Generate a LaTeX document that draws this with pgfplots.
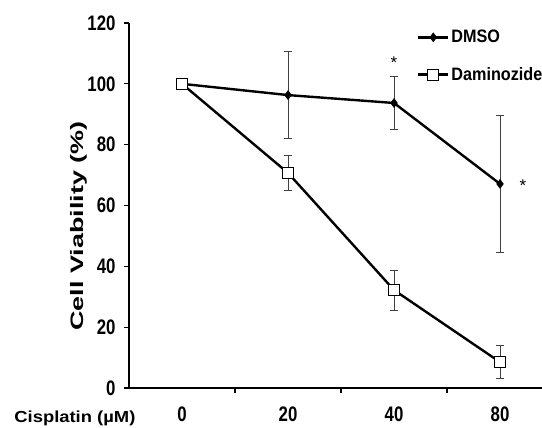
\documentclass[border=0pt]{standalone}
\usepackage{fontspec}
\setmainfont{Liberation Sans}
\newfontfamily\tickfont{Liberation Sans}[FakeStretch=0.8]
\newfontfamily\ylabfont{Liberation Sans}[FakeStretch=1.5]
\newfontfamily\xlabfont{Liberation Sans}[FakeStretch=1.15]
\newfontfamily\legfont{Liberation Sans}[FakeStretch=0.9]
\usepackage{pgfplots}
\pgfplotsset{compat=1.18}
\pgfplotstableread{
x y e
0.5 100 0
1.5 96.3 14.4
2.5 93.7 8.7
3.5 67.1 22.6
}\dmso
\pgfplotstableread{
x y e
0.5 100 0
1.5 70.7 5.7
2.5 32.2 6.6
3.5 8.5 5.5
}\dam
\begin{document}
\begin{tikzpicture}
\path[use as bounding box] (-129pt,-40pt) rectangle (413pt,388pt);
\begin{axis}[
  scale only axis, width=413pt, height=365pt,
  xmin=0, xmax=3.896, ymin=0, ymax=120,
  axis x line=bottom, axis y line=left,
  axis line style={line width=1.6pt, -},
  clip=false,
  ytick={0,20,...,120},
  xtick={1,2,3}, xticklabels={},
  extra x ticks={0.5,1.5,2.5,3.5},
  extra x tick labels={0,20,40,80},
  extra x tick style={major tick length=0pt},
  tick align=outside,
  major tick length=5pt,
  tick style={line width=1.2pt, black},
  /pgf/number format/assume math mode=true,
  ticklabel style={font=\tickfont\bfseries\fontsize{21}{21}\selectfont},
  yticklabel style={xshift=-5pt},
  xticklabel style={yshift=-15pt},
  xlabel={Cisplatin (µM)},
  xlabel style={at={(axis description cs:-0.131,-0.084)}, anchor=center, inner sep=0pt, font=\xlabfont\bfseries\fontsize{16}{16}\selectfont},
  ylabel={Cell Viability (\%)},
  ylabel style={at={(axis description cs:-0.121,0.444)}, anchor=center, font=\ylabfont\bfseries\fontsize{18}{18}\selectfont},
  legend style={at={(axis description cs:0.697,0.986)}, anchor=north west, draw=none, fill=none,
    font=\legfont\bfseries\fontsize{18}{18}\selectfont, inner sep=0pt, row sep=19pt},
  legend cell align=left,
  legend image code/.code={\draw[mark repeat=2,mark phase=2,#1] plot coordinates {(0pt,0pt) (15pt,0pt) (30pt,0pt)};},
]
\addplot[black, line width=2.4pt, mark=diamond*, mark size=4.5pt, mark options={solid, fill=black, line width=0.5pt},
  error bars/.cd, y dir=both, y explicit,
  error bar style={line width=0.9pt, black!75},
  error mark options={rotate=90, mark size=4pt, line width=0.9pt, black!75}]
  table[x=x, y=y, y error=e] {\dmso};
\addlegendentry{DMSO}
\addplot[black, line width=2.4pt, mark=square*, mark size=5.5pt, mark options={solid, fill=white, line width=1pt},
  error bars/.cd, y dir=both, y explicit,
  error bar style={line width=0.9pt, black!75},
  error mark options={rotate=90, mark size=4pt, line width=0.9pt, black!75}]
  table[x=x, y=y, y error=e] {\dam};
\addlegendentry{Daminozide}
\node[anchor=north, inner sep=0pt, font=\fontsize{17}{17}\selectfont] at (axis cs:2.5,108.8) {*};
\node[anchor=north, inner sep=0pt, font=\fontsize{17}{17}\selectfont] at (axis cs:3.717,68.4) {*};
\end{axis}
\end{tikzpicture}
\end{document}
